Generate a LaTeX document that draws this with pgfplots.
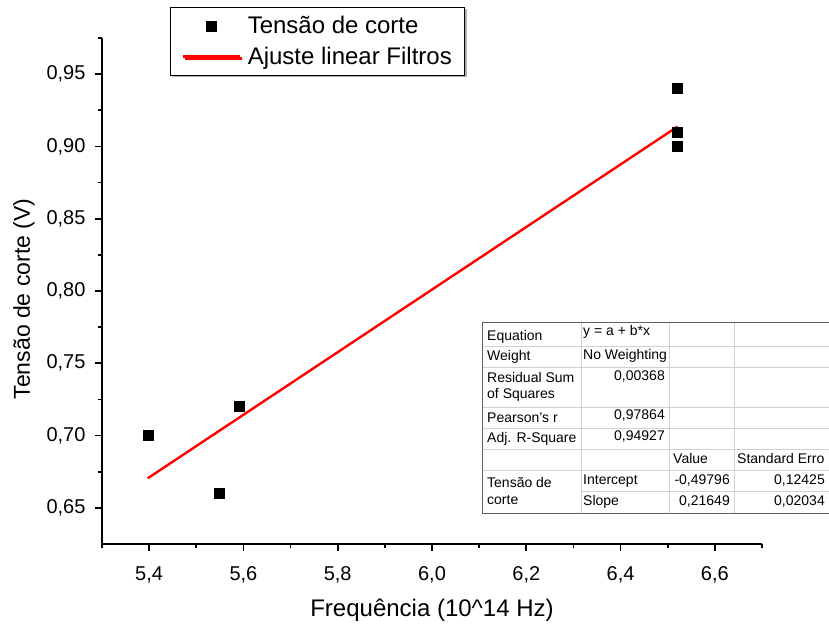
\documentclass[border=0pt]{standalone}
\usepackage{fontspec}
\setmainfont{Liberation Sans}
\usepackage{pgfplots}
\pgfplotsset{compat=1.18}
\usetikzlibrary{shadows}
\definecolor{tabline}{RGB}{208,208,208}
\definecolor{tabborder}{RGB}{96,96,96}
\pgfplotsset{
  mymarklegend/.style={legend image code/.code={\draw[mark repeat=2,mark phase=2,##1] plot coordinates {(0bp,0bp) (28.5bp,0bp) (57bp,0bp)};}},
  mylinelegend/.style={legend image code/.code={\draw[##1] (0bp,0bp) -- (57bp,0bp);}},
}
\begin{document}
\begin{tikzpicture}
\begin{axis}[
  scale only axis, width=660bp, height=506bp,
  xmin=5.3, xmax=6.7, ymin=0.625, ymax=0.975,
  axis lines=left,
  axis line style={-, line width=2bp, black},
  every tick/.style={black, line width=1.6bp},
  tick align=outside,
  major tick length=7bp, minor tick length=4bp,
  xtick={5.4,5.6,5.8,6.0,6.2,6.4,6.6},
  minor xtick={5.3,5.5,5.7,5.9,6.1,6.3,6.5,6.7},
  ytick={0.65,0.70,0.75,0.80,0.85,0.90,0.95},
  minor ytick={0.675,0.725,0.775,0.825,0.875,0.925,0.975},
  /pgf/number format/assume math mode=true,
  xticklabel style={font=\fontsize{20bp}{24bp}\selectfont, yshift=-12bp, /pgf/number format/.cd, fixed, fixed zerofill, precision=1, use comma},
  yticklabel style={font=\fontsize{20bp}{24bp}\selectfont, xshift=-6bp, /pgf/number format/.cd, fixed, fixed zerofill, precision=2, use comma},
  xlabel={Frequência (10\textasciicircum 14 Hz)},
  ylabel={Tensão de corte (V)},
  xlabel style={font=\fontsize{24bp}{28bp}\selectfont, at={(axis description cs:0.5,0)}, anchor=center, yshift=-66bp},
  ylabel style={font=\fontsize{23bp}{27bp}\selectfont, at={(axis description cs:0,0.4842)}, anchor=center, yshift=78bp},
  legend style={at={(axis description cs:0.1030,1.0613)}, anchor=north west,
    draw=black, line width=0.8bp, fill=white,
    drop shadow={shadow xshift=2bp, shadow yshift=-2bp, fill=gray!60, opacity=1},
    font=\fontsize{24bp}{28bp}\selectfont,
    inner xsep=11bp, inner ysep=7bp, row sep=8bp, column sep=5bp},
  legend cell align=left,
]
\addplot[only marks, mark=square*, mark size=5bp, mark options={fill=black, draw=black, line width=0.4bp}, mymarklegend]
  coordinates {(5.397,0.70) (5.549,0.66) (5.590,0.72) (6.521,0.94) (6.521,0.91) (6.521,0.90)};
\addlegendentry{Tensão de corte}
\addplot[red, line width=2.4bp, no marks, mylinelegend]
  coordinates {(5.397,0.67044) (6.521,0.91377)};
\addlegendentry{Ajuste linear Filtros}
\end{axis}
\begin{scope}[x=1bp, y=-1bp, shift={(-102bp,544bp)}]
  \fill[white] (483,323) rectangle (845,514);
  \begin{scope}[draw=tabline, line width=0.8bp]
    \foreach \yy in {346,367,407,428,449,470} \draw (483,\yy) -- (845,\yy);
    \draw (581,491) -- (845,491);
    \foreach \xx in {581,669,734} \draw (\xx,323) -- (\xx,514);
  \end{scope}
  \draw[tabborder, line width=1bp] (483,323) rectangle (845,514);
  \begin{scope}[every node/.style={inner sep=0pt, font=\fontsize{14bp}{16bp}\selectfont}]
    \node[anchor=base west] at (487,341) {Equation};
    \node[anchor=base west] at (487,361) {Weight};
    \node[anchor=base west] at (487,383) {Residual Sum};
    \node[anchor=base west] at (487,399) {of Squares};
    \node[anchor=base west] at (487,423) {Pearson\symbol{39}s r};
    \node[anchor=base west] at (487,443) {Adj. R-Square};
    \node[anchor=base west] at (487,488) {Tensão de};
    \node[anchor=base west] at (487,505) {corte};
    \node[anchor=base west] at (583,336) {y = a + b*x};
    \node[anchor=base west] at (583,360) {No Weighting};
    \node[anchor=base west] at (583,485) {Intercept};
    \node[anchor=base west] at (583,506) {Slope};
    \node[anchor=base east] at (665,381) {0,00368};
    \node[anchor=base east] at (665,420) {0,97864};
    \node[anchor=base east] at (665,441) {0,94927};
    \node[anchor=base west] at (673,464) {Value};
    \node[anchor=base east] at (730,485) {-0,49796};
    \node[anchor=base east] at (730,506) {0,21649};
    \node[anchor=base west] at (737,464) {Standard Erro};
    \node[anchor=base east] at (825,485) {0,12425};
    \node[anchor=base east] at (825,506) {0,02034};
  \end{scope}
\end{scope}
\pgfresetboundingbox
\useasboundingbox (-102bp,-81bp) rectangle (727bp,544bp);
\end{tikzpicture}
\end{document}
